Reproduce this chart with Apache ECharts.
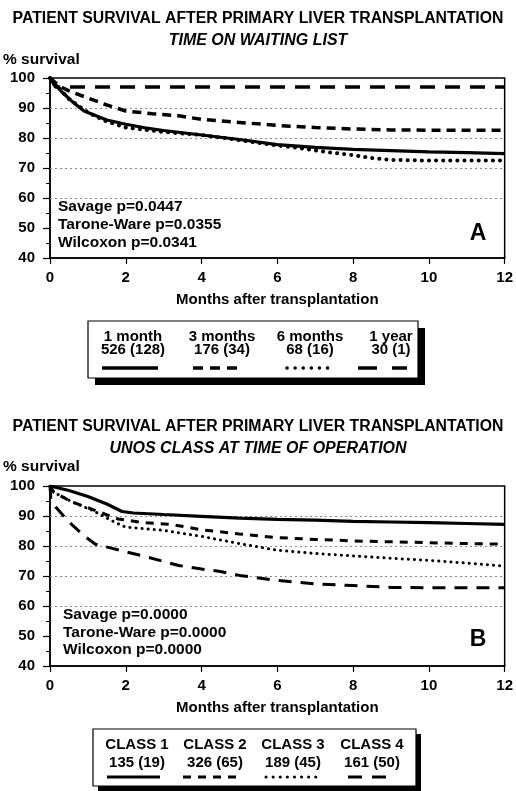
<!DOCTYPE html>
<html>
<head>
<meta charset="utf-8">
<script src="https://cdn.jsdelivr.net/npm/echarts@6/dist/echarts.min.js"></script>
<style>
html,body{margin:0;padding:0;background:#fff;}
#c{width:516px;height:791px;}
</style>
</head>
<body>
<div id="c"></div>
<script>
// ---------- DATA ----------
const mainTitle = 'PATIENT SURVIVAL AFTER PRIMARY LIVER TRANSPLANTATION';
const subTitleA = 'TIME ON WAITING LIST';
const subTitleB = 'UNOS CLASS AT TIME OF OPERATION';
const yAxisTitle = '% survival';
const xAxisTitle = 'Months after transplantation';
const gridValues = [60, 70, 80, 90];

// Panel A: time on waiting list
const monthsA1 = [0, 0.3, 0.6, 0.9, 1.2, 1.5, 2, 2.5, 3, 4, 5, 6, 7, 8, 9, 10, 11, 12];
const survA1   = [100, 95.5, 92, 89, 87.5, 86, 84.6, 83.4, 82.5, 81, 79.5, 77.8, 76.9, 76.2, 75.8, 75.4, 75.1, 74.8];
const monthsA3 = [0, 0.25, 0.5, 0.9, 1.5, 2, 2.7, 3.4, 4, 5, 6, 7, 8, 9, 10, 11, 12];
const survA3   = [100, 97.3, 95.7, 93.8, 91, 89, 88.1, 87.4, 86.2, 85.2, 84.2, 83.5, 83, 82.7, 82.6, 82.6, 82.6];
const monthsA6 = [0, 0.5, 1, 1.5, 2, 3, 4, 5, 6, 6.5, 7, 7.5, 8, 8.5, 9, 10, 11, 12];
const survA6   = [100, 93, 88.5, 85.5, 83.5, 82, 81, 79.3, 77.5, 76.8, 75.9, 75, 74.3, 73.3, 72.7, 72.5, 72.5, 72.5];
const monthsA12 = [0, 0.15, 12];
const survA12   = [100, 97, 97];
const statsA = ['Savage p=0.0447', 'Tarone-Ware p=0.0355', 'Wilcoxon p=0.0341'];
const legendNamesA = ['1 month', '3 months', '6 months', '1 year'];
const legendCountsA = ['526 (128)', '176 (34)', '68 (16)', '30 (1)'];

// Panel B: UNOS class
const monthsB1 = [0, 0.5, 1, 1.5, 1.9, 2.2, 3, 4, 5, 6, 7, 8, 9, 10, 11, 12];
const survB1   = [100, 98.5, 96.5, 94, 91.5, 91, 90.5, 89.9, 89.3, 88.9, 88.6, 88.2, 88, 87.8, 87.5, 87.2];
const monthsB2 = [0, 0.1, 0.6, 1.1, 1.8, 2.4, 3.2, 4, 5, 6, 7, 8, 9, 10, 11, 12];
const survB2   = [100, 97.9, 94.6, 92.3, 89, 87.9, 87.2, 85.4, 84, 82.8, 82.2, 81.7, 81.4, 81.1, 80.8, 80.6];
const monthsB3 = [0, 0.1, 0.6, 1.1, 1.7, 2, 3, 4, 5, 6, 7, 8, 9, 10, 11, 12];
const survB3   = [100, 97.9, 94.6, 92, 88, 86.3, 85.2, 83.2, 80.8, 78.6, 77.5, 76.7, 75.9, 75.2, 74.3, 73.3];
const monthsB4 = [0, 0.02, 0.15, 0.5, 0.9, 1.2, 1.9, 2.6, 3.4, 4, 4.5, 5, 6, 7, 8, 9, 10, 11, 12];
const survB4   = [100, 96, 93, 88, 83.4, 80.6, 78.4, 76.2, 73.5, 72.3, 71.5, 70.2, 68.5, 67.4, 66.8, 66.2, 66.1, 66.1, 66.1];
const statsB = ['Savage p=0.0000', 'Tarone-Ware p=0.0000', 'Wilcoxon p=0.0000'];
const legendNamesB = ['CLASS 1', 'CLASS 2', 'CLASS 3', 'CLASS 4'];
const legendCountsB = ['135 (19)', '326 (65)', '189 (45)', '161 (50)'];

// ---------- BUILD ----------
const FONT = 'Liberation Sans';
const zip = (xs, ys) => xs.map((x, i) => [x, ys[i]]);

const styleSolid  = {color: '#000', width: 3.2, type: 'solid'};
const styleDashM  = {color: '#000', width: 3.5, type: [9, 6]};
const styleDot    = {color: '#000', width: 4, type: [0.1, 7], cap: 'round'};
const styleDashL  = {color: '#000', width: 3.5, type: [15, 10]};
const styleDashB2 = {color: '#000', width: 3, type: [8, 7]};
const styleDotB3  = {color: '#000', width: 3, type: [0.1, 6], cap: 'round'};
const styleDashB4 = {color: '#000', width: 3, type: [13, 9]};

const gridMark = {
  silent: true, symbol: 'none', label: {show: false},
  lineStyle: {color: '#888', width: 1, type: [2, 3]},
  data: gridValues.map(v => ({yAxis: v}))
};

function line(name, xs, ys, ls, idx, withGrid) {
  const s = {
    name, type: 'line', xAxisIndex: idx, yAxisIndex: idx,
    data: zip(xs, ys), showSymbol: false, symbol: 'none',
    lineStyle: ls, z: 5, animation: false
  };
  if (withGrid) s.markLine = gridMark;
  return s;
}

const xAxisBase = idx => ({
  type: 'value', gridIndex: idx, min: 0, max: 12, interval: 2,
  axisLine: {show: true, lineStyle: {color: '#000', width: 1.5}},
  axisTick: {show: true, length: 6, lineStyle: {color: '#000', width: 1.2}},
  axisLabel: {color: '#000', fontSize: 15, fontWeight: 'bold', fontFamily: FONT, margin: 12},
  splitLine: {show: false},
  name: xAxisTitle, nameLocation: 'middle', nameGap: 34,
  nameTextStyle: {color: '#000', fontSize: 15, fontWeight: 'bold', fontFamily: FONT}
});
const yAxisBase = idx => ({
  type: 'value', gridIndex: idx, min: 40, max: 100, interval: 10,
  axisLine: {show: true, lineStyle: {color: '#000', width: 1.5}},
  axisTick: {show: true, length: 7, lineStyle: {color: '#000', width: 1.2}},
  minorTick: {show: true, splitNumber: 2, length: 4, lineStyle: {color: '#000', width: 1}},
  axisLabel: {color: '#000', fontSize: 15, fontWeight: 'bold', fontFamily: FONT, margin: 15},
  splitLine: {show: false}
});

function textEl(str, x, y, size, align, extra) {
  return Object.assign({
    type: 'text', x, y, z: 10,
    style: {text: str, fill: '#000', font: 'bold ' + size + 'px "' + FONT + '"',
            textAlign: align || 'left', textVerticalAlign: 'middle'}
  }, extra || {});
}

function legendBox(cfg) {
  const els = [];
  els.push({type: 'rect', shape: {x: cfg.x + cfg.sh, y: cfg.y + cfg.sh, width: cfg.w, height: cfg.h},
            style: {fill: '#000'}, z: 8});
  els.push({type: 'rect', shape: {x: cfg.x, y: cfg.y, width: cfg.w, height: cfg.h},
            style: {fill: '#fff', stroke: '#000', lineWidth: 1.2}, z: 9});
  cfg.names.forEach((n, i) => {
    els.push(textEl(n, cfg.cols[i], cfg.y1, 15, 'center'));
    els.push(textEl(cfg.counts[i], cfg.cols[i], cfg.y2, 15, 'center'));
  });
  cfg.samples.forEach(s => {
    els.push({type: 'line', z: 10, shape: {x1: s[0], y1: cfg.ys, x2: s[1], y2: cfg.ys},
              style: Object.assign({stroke: '#000', lineWidth: s[2]}, s[3] || {})});
  });
  return els;
}

const graphics = [
  textEl(yAxisTitle, 3, 60, 15.5, 'left'),
  textEl(yAxisTitle, 3, 467, 15.5, 'left'),
  ...statsA.map((t, i) => textEl(t, 58, 207 + i * 18, 15.5, 'left')),
  ...statsB.map((t, i) => textEl(t, 63, 615 + i * 17.5, 15.5, 'left')),
  textEl('A', 478, 234, 23, 'center'),
  textEl('B', 478, 640, 23, 'center'),
  ...legendBox({
    x: 88, y: 321, w: 330, h: 57, sh: 7,
    names: legendNamesA, counts: legendCountsA, cols: [133, 222, 310, 391],
    y1: 337, y2: 350, ys: 368,
    samples: [
      [102, 158, 3.5],
      [193, 237, 3.5, {lineDash: [10, 7]}],
      [287, 331, 3.5, {lineDash: [0.1, 8], lineCap: 'round'}],
      [358, 377, 3.5], [392, 407, 3.5]
    ]
  }),
  ...legendBox({
    x: 93, y: 729, w: 323, h: 57, sh: 5,
    names: legendNamesB, counts: legendCountsB, cols: [137, 215, 293, 372],
    y1: 745, y2: 763, ys: 777,
    samples: [
      [107, 160, 3],
      [183, 237, 3, {lineDash: [8, 7]}],
      [266, 318, 3, {lineDash: [0.1, 7], lineCap: 'round'}],
      [348, 362, 3], [372, 386, 3]
    ]
  })
];

const titleStyle = {fontSize: 15.8, fontWeight: 'bold', fontFamily: FONT, color: '#000'};
const subStyle = {fontSize: 16, fontWeight: 'bold', fontStyle: 'italic', fontFamily: FONT, color: '#000'};

const option = {
  animation: false,
  backgroundColor: '#fff',
  title: [
    {text: mainTitle, left: 'center', top: 6, textStyle: titleStyle},
    {text: subTitleA, left: 'center', top: 28, textStyle: subStyle},
    {text: mainTitle, left: 'center', top: 414, textStyle: titleStyle},
    {text: subTitleB, left: 'center', top: 436, textStyle: subStyle}
  ],
  grid: [
    {left: 50, right: 8, top: 78, height: 180, show: true, borderColor: '#000', borderWidth: 1.5, backgroundColor: 'transparent'},
    {left: 50, right: 8, top: 486, height: 180, show: true, borderColor: '#000', borderWidth: 1.5, backgroundColor: 'transparent'}
  ],
  xAxis: [xAxisBase(0), xAxisBase(1)],
  yAxis: [yAxisBase(0), yAxisBase(1)],
  series: [
    line(legendNamesA[0], monthsA1, survA1, styleSolid, 0, true),
    line(legendNamesA[1], monthsA3, survA3, styleDashM, 0),
    line(legendNamesA[2], monthsA6, survA6, styleDot, 0),
    line(legendNamesA[3], monthsA12, survA12, styleDashL, 0),
    line(legendNamesB[0], monthsB1, survB1, styleSolid, 1, true),
    line(legendNamesB[1], monthsB2, survB2, styleDashB2, 1),
    line(legendNamesB[2], monthsB3, survB3, styleDotB3, 1),
    line(legendNamesB[3], monthsB4, survB4, styleDashB4, 1)
  ],
  graphic: graphics
};

const chart = echarts.init(document.getElementById('c'), null, {renderer: 'canvas'});
chart.setOption(option);
</script>
</body>
</html>
